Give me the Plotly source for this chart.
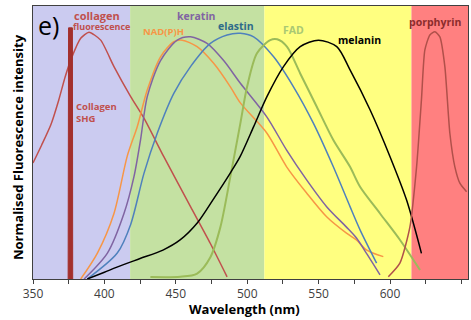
import plotly.graph_objects as go

# ---- data ----
collagen_fl_x = [350, 356, 362.5, 368, 372.5, 377, 383.4, 389.2, 397.4, 406.7, 418.4, 427.7, 441.6, 460.3, 474.2, 485.9]
collagen_fl_y = [0.425, 0.49, 0.565, 0.655, 0.74, 0.81, 0.882, 0.904, 0.875, 0.778, 0.668, 0.589, 0.448, 0.265, 0.13, 0.008]

shg_x = [374.6, 374.9, 377.6, 377.8]
shg_y = [0, 0.92, 0.92, 0]

nadph_x = [383.4, 395.1, 406.7, 416, 423, 430, 439.3, 448.6, 454.5, 464.9, 476.5, 488.2, 495.2, 513.7, 527.6, 541.6, 555.6, 569.5, 576.5, 583.7, 595.3]
nadph_y = [0, 0.095, 0.24, 0.45, 0.558, 0.692, 0.814, 0.869, 0.875, 0.851, 0.79, 0.704, 0.645, 0.535, 0.411, 0.315, 0.228, 0.168, 0.143, 0.106, 0.082]

keratin_x = [385.8, 402.1, 413.7, 420.7, 425.3, 430, 439.3, 451, 460.3, 471.9, 483.5, 495.2, 513.7, 527.6, 541.6, 555.6, 569.5, 576.5, 584, 593]
keratin_y = [0, 0.095, 0.24, 0.375, 0.51, 0.668, 0.80, 0.875, 0.887, 0.863, 0.80, 0.717, 0.594, 0.472, 0.363, 0.265, 0.19, 0.15, 0.09, 0.015]

elastin_x = [388, 409, 418.4, 427.7, 437, 448.6, 460.3, 474.2, 485.9, 495.2, 504.5, 518.5, 532.4, 546.4, 560.3, 572, 579, 590.6]
elastin_y = [0, 0.095, 0.2, 0.387, 0.534, 0.68, 0.778, 0.863, 0.894, 0.90, 0.887, 0.814, 0.704, 0.57, 0.411, 0.265, 0.18, 0.058]

fad_x = [432.2, 453.1, 464.9, 474.2, 481.2, 488.2, 495.2, 499.9, 506.8, 516.1, 521, 527.8, 537.1, 548.7, 560.3, 572, 579, 593, 607, 621]
fad_y = [0.007, 0.008, 0.02, 0.08, 0.19, 0.375, 0.57, 0.704, 0.827, 0.875, 0.878, 0.851, 0.753, 0.631, 0.509, 0.411, 0.338, 0.24, 0.143, 0.033]

melanin_x = [388, 400, 412, 425, 441, 453, 465, 476, 488, 495, 504.5, 513.8, 525.4, 537.1, 549.9, 562.7, 572, 586, 600, 611.6, 622]
melanin_y = [0, 0.025, 0.05, 0.075, 0.106, 0.143, 0.205, 0.29, 0.387, 0.448, 0.558, 0.668, 0.778, 0.851, 0.875, 0.851, 0.766, 0.62, 0.448, 0.289, 0.094]

porphyrin_x = [598.8, 606.9, 613.9, 618.6, 622, 624.4, 627.9, 631.4, 634.9, 638.4, 641.9, 645.4, 649, 653.6]
porphyrin_y = [0.008, 0.058, 0.19, 0.411, 0.656, 0.839, 0.894, 0.906, 0.887, 0.778, 0.534, 0.411, 0.35, 0.32]

band_edges = [350, 418.0, 512.0, 615.0, 654.6]
band_colors = ["#cbcbf0", "#c4e1a2", "#ffff80", "#ff8080"]

x_ticks = [350, 400, 450, 500, 550, 600, 650]

FONT = "Open Sans"

fig = go.Figure()

def line(x, y, color, width=1.5, smoothing=0.8):
    fig.add_trace(go.Scatter(x=x, y=y, mode="lines", line=dict(color=color, width=width, shape="spline", smoothing=smoothing),
                             hoverinfo="skip", showlegend=False))

line(collagen_fl_x, collagen_fl_y, "#c0504d", 1.5, 0.6)
fig.add_trace(go.Scatter(x=shg_x, y=shg_y, mode="lines", fill="toself", fillcolor="#a3302d",
                         line=dict(color="#a3302d", width=1), hoverinfo="skip", showlegend=False))
line(nadph_x, nadph_y, "#f79646")
line(keratin_x, keratin_y, "#8064a2")
line(elastin_x, elastin_y, "#4f81bd")
line(fad_x, fad_y, "#9bbb59", 2)
line(melanin_x, melanin_y, "#000000")
line(porphyrin_x, porphyrin_y, "#b0504a", 1.5, 0.6)

shapes = []
for i, c in enumerate(band_colors):
    shapes.append(dict(type="rect", xref="x", yref="paper", x0=band_edges[i], x1=band_edges[i + 1],
                       y0=0, y1=1, fillcolor=c, line=dict(width=0), layer="below"))

def lab(text, x, y, color, size, xanchor="center", bold=True):
    t = f"<b>{text}</b>" if bold else text
    fig.add_annotation(x=x, y=y, xref="x", yref="y", text=t, showarrow=False,
                       font=dict(family=FONT, size=size, color=color), xanchor=xanchor, yanchor="middle", align="left")

lab("e)", 360.5, 0.93, "#000000", 25, bold=False)
lab("collagen", 394.7, 0.967, "#c0504d", 11)
lab("fluorescence", 398.3, 0.924, "#c0504d", 9)
lab("Collagen<br>SHG", 378.6, 0.61, "#c0504d", 9.5, xanchor="left")
lab("NAD(P)H", 441.1, 0.905, "#f79646", 9.5)
lab("keratin", 464.7, 0.964, "#8064a2", 10.5)
lab("elastin", 492.2, 0.927, "#2e6b8a", 10.5)
lab("FAD", 532.2, 0.912, "#a9c873", 10.5)
lab("melanin", 578.9, 0.875, "#000000", 10.5)
lab("porphyrin", 631.3, 0.942, "#8b2c2c", 10.5)

fig.add_annotation(x=0, y=0.4835, xref="paper", yref="paper", text="<b>Normalised Fluorescence intensity</b>",
                   textangle=-90, showarrow=False, xshift=-15, xanchor="center", yanchor="middle",
                   font=dict(family=FONT, size=13, color="#000000"))
fig.add_annotation(x=497.8, y=0, xref="x", yref="paper", text="<b>Wavelength (nm)</b>",
                   showarrow=False, yshift=-30, xanchor="center", yanchor="middle",
                   font=dict(family=FONT, size=13, color="#000000"))

fig.update_layout(
    width=471, height=320,
    margin=dict(l=33, r=3, t=6, b=41),
    paper_bgcolor="white", plot_bgcolor="white",
    shapes=shapes,
    xaxis=dict(range=[350, 654.6], tickvals=x_ticks, ticktext=[str(v) for v in x_ticks],
               ticks="outside", ticklen=4, tickcolor="#404040", showgrid=False, zeroline=False,
               showline=True, linecolor="#404040", linewidth=1, mirror=True,
               tickfont=dict(family=FONT, size=12, color="#404040"),
               minor=dict(ticks="outside", ticklen=4, tickcolor="#404040", tick0=375, dtick=50, showgrid=False)),
    yaxis=dict(range=[0, 1], showticklabels=False, ticks="", showgrid=False, zeroline=False,
               showline=True, linecolor="#404040", linewidth=1, mirror=True),
)

fig.write_html("out.html", config={"displayModeBar": False},
               post_script="document.body.style.margin='0';document.body.style.overflow='hidden';")
